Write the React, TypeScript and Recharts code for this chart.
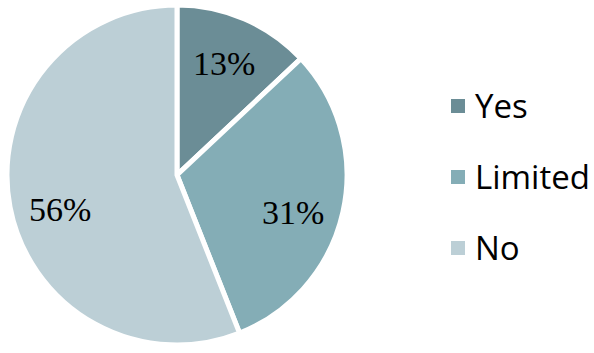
import React from "react";
import { PieChart, Pie, Cell } from "recharts";

const categories = ["Yes", "Limited", "No"];
const values = [13, 31, 56];
const colors = ["#6b8d96", "#84adb6", "#bccfd6"];

const data = categories.map((name, i) => ({ name, value: values[i] }));

const RAD = Math.PI / 180;

const renderLabel = (props: any) => {
  const { cx, cy, midAngle, outerRadius, percent } = props;
  const r = outerRadius * 0.7;
  const s = Math.sin(midAngle * RAD);
  const x = cx + r * Math.cos(-midAngle * RAD);
  const y = cy - r * s + (s < 0 ? 12 : -2);
  return (
    <text
      x={x}
      y={y}
      fill="#000"
      textAnchor="middle"
      dominantBaseline="central"
      fontFamily="'Liberation Serif', 'Times New Roman', serif"
      fontSize={34}
    >
      {`${Math.round(percent * 100)}%`}
    </text>
  );
};

export default function App() {
  return (
    <div
      style={{
        position: "absolute",
        left: 0,
        top: 0,
        width: 594,
        height: 353,
        background: "#fff",
      }}
    >
      <PieChart width={594} height={353} margin={{ top: 0, right: 0, bottom: 0, left: 0 }}>
        <Pie
          data={data}
          dataKey="value"
          nameKey="name"
          cx={177}
          cy={175}
          outerRadius={170}
          startAngle={90}
          endAngle={-270}
          stroke="#fff"
          strokeWidth={5}
          label={renderLabel}
          labelLine={false}
          isAnimationActive={false}
        >
          {data.map((d, i) => (
            <Cell key={d.name} fill={colors[i]} />
          ))}
        </Pie>
      </PieChart>
      <div
        style={{
          position: "absolute",
          left: 451,
          top: 70,
          display: "flex",
          flexDirection: "column",
        }}
      >
        {data.map((d, i) => (
          <div
            key={d.name}
            style={{ display: "flex", alignItems: "center", height: 71 }}
          >
            <span
              style={{
                display: "inline-block",
                width: 14,
                height: 14,
                background: colors[i],
                marginRight: 10,
                flexShrink: 0,
              }}
            />
            <span
              style={{
                fontFamily: "'Open Sans', sans-serif",
                fontSize: 33,
                lineHeight: "33px",
                color: "#000",
                whiteSpace: "nowrap",
              }}
            >
              {d.name}
            </span>
          </div>
        ))}
      </div>
    </div>
  );
}
